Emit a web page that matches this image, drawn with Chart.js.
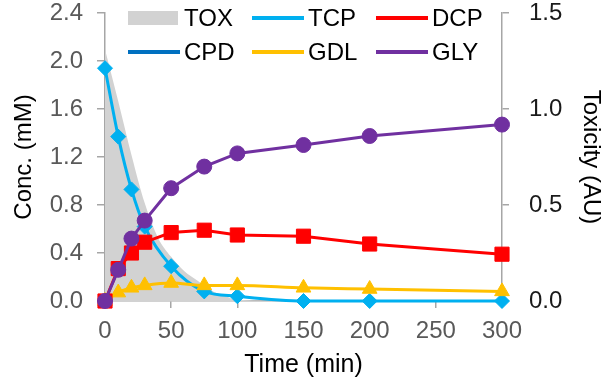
<!DOCTYPE html>
<html>
<head>
<meta charset="utf-8">
<script src="https://cdn.jsdelivr.net/npm/chart.js@4"></script>
<style>
  html, body { margin: 0; padding: 0; background: #fff; }
  #wrap { width: 605px; height: 383px; }
</style>
</head>
<body>
<div id="wrap"><canvas id="chart" width="605" height="383"></canvas></div>
<script>
// sampling times (min)
const time = [0, 10, 20, 30, 50, 75, 100, 150, 200, 300];
// concentrations (mM)
const tcp = [1.94, 1.37, 0.93, 0.62, 0.29, 0.08, 0.04, 0, 0, 0];
const dcp = [0, 0.27, 0.40, 0.49, 0.57, 0.59, 0.55, 0.54, 0.475, 0.39];
const cpd = []; // not detected
const gdl = [0, 0.07, 0.11, 0.13, 0.15, 0.13, 0.13, 0.11, 0.10, 0.08];
const gly = [0, 0.26, 0.52, 0.67, 0.94, 1.12, 1.23, 1.30, 1.375, 1.47];
// toxicity curve (AU)
const toxTime = [0, 10, 20, 30, 40, 50, 60, 70, 80, 90, 100, 150, 200, 300];
const tox = [1.31, 1.04, 0.76, 0.51, 0.33, 0.23, 0.155, 0.105, 0.056, 0.028, 0.006, 0, 0, 0];

const concTicks = [0, 0.4, 0.8, 1.2, 1.6, 2.0, 2.4];
const toxTicks = [0, 0.5, 1.0, 1.5];

const FONT = "'Liberation Sans', Arial, sans-serif";
const AXIS = '#A6A6A6';

function pts(xs, ys) {
  return ys.map((y, i) => ({ x: xs[i], y: y }));
}

function series(label, ys, color, shape, radius, order, smooth) {
  return {
    label: label,
    data: pts(time, ys),
    yAxisID: 'y',
    borderColor: color,
    backgroundColor: color,
    borderWidth: 3,
    pointStyle: shape,
    pointRadius: radius,
    pointBorderWidth: 1,
    pointBackgroundColor: color,
    pointBorderColor: color,
    cubicInterpolationMode: smooth ? 'monotone' : 'default',
    tension: smooth ? 0.4 : 0,
    fill: false,
    order: order,
    clip: false
  };
}

// fixed side widths so the plot box sits where the original has it
function fixY(width) {
  return s => {
    s.width = width;
    s.paddingTop = 13;
    s.paddingBottom = 0;
  };
}

// legend drawn inside the plot, 3 columns x 2 rows
const insideLegend = {
  id: 'insideLegend',
  afterDatasetsDraw(chart) {
    const ctx = chart.ctx;
    const a = chart.chartArea;
    ctx.save();
    ctx.font = '24px ' + FONT;
    ctx.textBaseline = 'middle';
    ctx.fillStyle = '#000';
    chart.data.datasets.forEach((ds, i) => {
      const col = i % 3, row = Math.floor(i / 3);
      const x = a.left + 23 + col * 124;
      const y = a.top + 5 + row * 34;
      if (ds.fill) {
        ctx.fillStyle = ds.backgroundColor;
        ctx.fillRect(x, y - 7, 50, 14);
      } else {
        ctx.strokeStyle = ds.borderColor;
        ctx.lineWidth = 4;
        ctx.beginPath();
        ctx.moveTo(x, y);
        ctx.lineTo(x + 52, y);
        ctx.stroke();
      }
      ctx.fillStyle = '#000';
      ctx.fillText(ds.label, x + 56, y + 1);
    });
    ctx.restore();
  }
};

new Chart(document.getElementById('chart'), {
  type: 'line',
  data: {
    datasets: [
      {
        label: 'TOX',
        data: pts(toxTime, tox),
        yAxisID: 'y2',
        borderColor: 'rgba(0,0,0,0)',
        backgroundColor: '#D2D2D2',
        borderWidth: 0,
        pointRadius: 0,
        fill: 'origin',
        cubicInterpolationMode: 'monotone',
        order: 10
      },
      series('TCP', tcp, '#00B0F0', 'rectRot', 7.5, 4, true),
      series('DCP', dcp, '#FF0000', 'rect', 10, 2, false),
      series('CPD', cpd, '#0070C0', 'circle', 6, 5, false),
      series('GDL', gdl, '#FFC000', 'triangle', 8.5, 3, true),
      series('GLY', gly, '#7030A0', 'circle', 7.5, 1, false)
    ]
  },
  options: {
    responsive: false,
    animation: false,
    layout: { padding: 0 },
    plugins: {
      legend: { display: false },
      tooltip: { enabled: false }
    },
    scales: {
      x: {
        type: 'linear',
        min: 0,
        max: 300,
        afterFit(s) { s.height = 82; s.paddingLeft = 0; s.paddingRight = 0; },
        ticks: { stepSize: 50, color: '#595959', font: { family: FONT, size: 24 }, padding: 9 },
        grid: { drawOnChartArea: false, color: AXIS, tickColor: AXIS, tickLength: 7, lineWidth: 1.5 },
        border: { color: AXIS, width: 1.5 },
        title: { display: true, text: 'Time (min)', color: '#000', font: { family: FONT, size: 25 }, padding: { top: 0, bottom: 3 } }
      },
      y: {
        position: 'left',
        min: 0,
        max: 2.4,
        afterFit: fixY(105),
        afterBuildTicks(s) { s.ticks = concTicks.map(v => ({ value: v })); },
        ticks: { color: '#595959', font: { family: FONT, size: 24 }, padding: 14, callback: v => v.toFixed(1) },
        grid: { drawOnChartArea: false, color: AXIS, tickColor: AXIS, tickLength: 8, lineWidth: 1.5 },
        border: { color: AXIS, width: 1.5 },
        title: { display: true, text: 'Conc. (mM)', color: '#000', font: { family: FONT, size: 24 }, padding: { top: 10, bottom: 0 } }
      },
      y2: {
        position: 'right',
        min: 0,
        max: 1.5,
        afterFit: fixY(103),
        afterBuildTicks(s) { s.ticks = toxTicks.map(v => ({ value: v })); },
        ticks: { color: '#1A1A1A', font: { family: FONT, size: 24 }, padding: 20, callback: v => v.toFixed(1) },
        grid: { drawOnChartArea: false, color: AXIS, tickColor: AXIS, tickLength: 7, lineWidth: 1.5 },
        border: { color: AXIS, width: 1.5 },
        title: { display: true, text: 'Toxicity (AU)', color: '#000', font: { family: FONT, size: 24 }, padding: { top: 0, bottom: 0 } }
      }
    }
  },
  plugins: [insideLegend]
});
</script>
</body>
</html>
